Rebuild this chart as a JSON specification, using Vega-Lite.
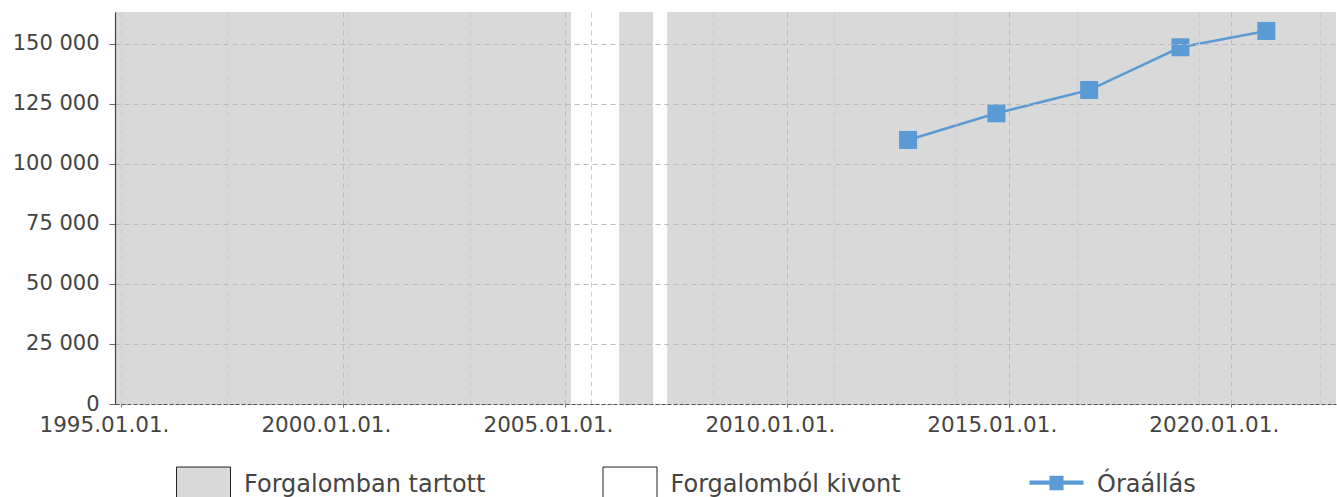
{
  "$schema": "https://vega.github.io/schema/vega-lite/v6.json",
  "width": 1221,
  "height": 392,
  "autosize": {"type": "none"},
  "padding": {"left": 115, "top": 12, "right": 1, "bottom": 93},
  "background": "white",
  "config": {
    "view": {"stroke": null},
    "font": "DejaVu Sans",
    "axis": {"labelFont": "DejaVu Sans", "labelColor": "#444444", "labelFontSize": 21}
  },
  "datasets": {
    "periods": [
      {"start": "1994-11-13", "end": "2005-02-21", "kategoria": "Forgalomban tartott"},
      {"start": "2005-02-21", "end": "2006-03-23", "kategoria": "Forgalomból kivont"},
      {"start": "2006-03-23", "end": "2006-12-28", "kategoria": "Forgalomban tartott"},
      {"start": "2006-12-28", "end": "2007-04-22", "kategoria": "Forgalomból kivont"},
      {"start": "2007-04-22", "end": "2022-05-16", "kategoria": "Forgalomban tartott"}
    ],
    "readings": [
      {"date": "2012-09-24", "km": 110000, "kategoria": "Óraállás"},
      {"date": "2014-09-21", "km": 121100, "kategoria": "Óraállás"},
      {"date": "2016-10-23", "km": 130800, "kategoria": "Óraállás"},
      {"date": "2018-11-13", "km": 148600, "kategoria": "Óraállás"},
      {"date": "2020-10-20", "km": 155400, "kategoria": "Óraállás"}
    ]
  },
  "resolve": {"axis": {"x": "independent"}},
  "layer": [
    {
      "data": {"name": "periods"},
      "mark": {"type": "rect", "clip": true},
      "encoding": {
        "x": {
          "field": "start", "type": "temporal",
          "scale": {"domain": [{"year": 1994, "month": 11, "date": 13}, {"year": 2022, "month": 5, "date": 16}], "nice": false},
          "axis": {
            "orient": "bottom",
            "title": null,
            "values": [
              {"year": 1995, "month": 1, "date": 1},
              {"year": 2000, "month": 1, "date": 1},
              {"year": 2005, "month": 1, "date": 1},
              {"year": 2010, "month": 1, "date": 1},
              {"year": 2015, "month": 1, "date": 1},
              {"year": 2020, "month": 1, "date": 1}
            ],
            "format": "%Y.%m.%d.",
            "formatType": "time",
            "labelPadding": 5,
            "labelOffset": -17,
            "labelFontSize": 21.5,
            "tickSize": 5,
            "tickColor": "#777777",
            "tickDash": [3, 2],
            "domainColor": "#555555",
            "domainDash": [4, 2],
            "domainWidth": 1,
            "grid": true,
            "gridColor": {"condition": {"test": "year(datum.value) === 1995", "value": "#cccccc"}, "value": "#bbbbbb"},
            "gridDash": [5, 4],
            "gridWidth": 1,
            "zindex": 1
          }
        },
        "x2": {"field": "end"},
        "color": {
          "field": "kategoria", "type": "nominal",
          "scale": {
            "domain": ["Forgalomban tartott", "Forgalomból kivont", "Óraállás"],
            "range": ["#d9d9d9", "#ffffff", "#5b9bd5"]
          },
          "legend": {
            "title": null,
            "orient": "none",
            "legendX": 61,
            "legendY": 445,
            "direction": "horizontal",
            "columns": 3,
            "gridAlign": "all",
            "columnPadding": 114.5,
            "labelOffset": 13,
            "labelFont": "DejaVu Sans",
            "labelFontSize": 24,
            "labelColor": "#444444",
            "labelLimit": 400,
            "symbolSize": 2916,
            "encode": {
              "symbols": {
                "update": {
                  "shape": {"signal": "datum.value === 'Óraállás' ? 'M0,-0.66L0,-0.66M0,0.66L0,0.66M-1,-0.16H1V0H-1Z M-0.26,-0.34H0.26V0.2H-0.26Z' : 'M-1,-0.66H1V0.66H-1Z'"},
                  "stroke": {"signal": "datum.value === 'Óraállás' ? 'transparent' : '#222222'"},
                  "strokeWidth": {"value": 1},
                  "opacity": {"value": 1},
                  "fillOpacity": {"value": 1},
                  "strokeOpacity": {"value": 1}
                }
              }
            }
          }
        }
      }
    },
    {
      "data": {"name": "readings"},
      "mark": {
        "type": "line",
        "color": "#5b9bd5",
        "strokeWidth": 2.5,
        "point": {"shape": "square", "size": 324, "filled": true, "opacity": 1, "color": "#5b9bd5"}
      },
      "encoding": {
        "x": {
          "field": "date", "type": "temporal",
          "axis": {
            "orient": "top",
            "title": null,
            "values": [
              {"year": 1997, "month": 5, "date": 19},
              {"year": 2000, "month": 2, "date": 13},
              {"year": 2002, "month": 11, "date": 9},
              {"year": 2005, "month": 8, "date": 5},
              {"year": 2008, "month": 5, "date": 1},
              {"year": 2011, "month": 1, "date": 26},
              {"year": 2013, "month": 10, "date": 22},
              {"year": 2016, "month": 7, "date": 18},
              {"year": 2019, "month": 4, "date": 14},
              {"year": 2022, "month": 1, "date": 8}
            ],
            "labels": false,
            "ticks": false,
            "domain": false,
            "grid": true,
            "gridColor": "#cccccc",
            "gridDash": [5, 4],
            "gridWidth": 1,
            "zindex": 1
          }
        },
        "y": {
          "field": "km", "type": "quantitative",
          "scale": {"domain": [0, 163300], "nice": false},
          "axis": {
            "title": null,
            "values": [0, 25000, 50000, 75000, 100000, 125000, 150000],
            "labelExpr": "replace(format(datum.value, ','), ',', ' ')",
            "tickSize": 6,
            "tickColor": "#666666",
            "labelPadding": 10,
            "domainColor": "#444444",
            "domainWidth": 1.2,
            "grid": true,
            "gridColor": "#bbbbbb",
            "gridDash": [5, 4],
            "gridWidth": 1,
            "zindex": 1
          }
        }
      }
    }
  ]
}
